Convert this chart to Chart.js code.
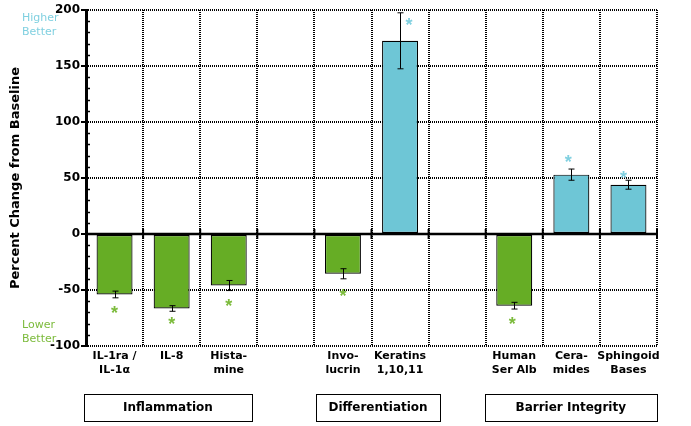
<!DOCTYPE html>
<html>
<head>
<meta charset="utf-8">
<script src="https://cdn.jsdelivr.net/npm/chart.js@4.4.0/dist/chart.umd.min.js"></script>
<style>
  html, body { margin: 0; padding: 0; background: #fff; }
  #wrap { width: 691px; height: 426px; }
</style>
</head>
<body>
<div id="wrap"><canvas id="chart"></canvas></div>
<script>
// data
const categories = [['IL-1ra /', 'IL-1α'], ['IL-8'], ['Hista-', 'mine'], '', ['Invo-', 'lucrin'],
    ['Keratins', '1,10,11'], '', ['Human', 'Ser Alb'], ['Cera-', 'mides'], ['Sphingoid', 'Bases']];
const changeValues = [-54, -66.5, -46, null, -35.5, 172.5, null, -64, 53, 44];
const errorValues = [3, 2.5, 4.5, null, 4.5, 25, null, 3, 5, 4];
const starValues = [-67, -77, -61, null, -52, 190, null, -77, 67, 53.5];
const groupNames = ['Inflammation', 'Differentiation', 'Barrier Integrity'];
const groupSpans = [[-0.54, 2.41], [3.53, 5.7], [6.48, 9.5]];

const GREEN = '#66ad25';
const BLUE = '#6ec6d6';
const STAR_GREEN = '#7cbb3c';
const STAR_BLUE = '#80d0e0';
const FONT = '"DejaVu Sans", sans-serif';
const starShift = [0, 0, 0, 0, 0, 9, 0, -2, -3, -5];

const extrasPlugin = {
    id: 'extras',
    afterDatasetsDraw(chart) {
        const { ctx, chartArea: area } = chart;
        const x = chart.scales.x, y = chart.scales.y;
        const half = area.width / categories.length / 2;
        ctx.save();

        // error bars
        ctx.strokeStyle = '#000';
        ctx.lineWidth = 1;
        changeValues.forEach((v, i) => {
            if (v === null) return;
            const px = Math.round(x.getPixelForValue(i)) + 0.5;
            const hi = y.getPixelForValue(v + errorValues[i]);
            const lo = y.getPixelForValue(v - errorValues[i]);
            ctx.beginPath();
            ctx.moveTo(px, hi); ctx.lineTo(px, lo);
            ctx.moveTo(px - 3, hi); ctx.lineTo(px + 3, hi);
            ctx.moveTo(px - 3, lo); ctx.lineTo(px + 3, lo);
            ctx.stroke();
        });

        // significance stars
        ctx.font = 'bold 18px "Liberation Sans", Arial, sans-serif';
        ctx.textAlign = 'center';
        ctx.textBaseline = 'alphabetic';
        const m = ctx.measureText('*');
        const off = (m.actualBoundingBoxAscent - m.actualBoundingBoxDescent) / 2;
        starValues.forEach((v, i) => {
            if (v === null) return;
            ctx.fillStyle = changeValues[i] < 0 ? STAR_GREEN : STAR_BLUE;
            ctx.fillText('*', x.getPixelForValue(i) + starShift[i], y.getPixelForValue(v) + off);
        });

        // zero line with ticks at category boundaries
        const zy = y.getPixelForValue(0);
        ctx.strokeStyle = '#000';
        ctx.lineWidth = 2.5;
        ctx.beginPath();
        ctx.moveTo(area.left, zy); ctx.lineTo(area.right, zy);
        ctx.stroke();
        ctx.lineWidth = 2;
        for (let i = 0; i <= categories.length; i++) {
            const bx = x.getPixelForValue(i) - half;
            ctx.beginPath();
            ctx.moveTo(bx, zy - 5); ctx.lineTo(bx, zy + 5);
            ctx.stroke();
        }

        // minor ticks on the value axis
        ctx.lineWidth = 1.5;
        for (let v = y.min; v <= y.max; v += 10) {
            if (v % 50 === 0) continue;
            const py = Math.round(y.getPixelForValue(v)) + 0.5;
            ctx.beginPath();
            ctx.moveTo(area.left, py); ctx.lineTo(area.left + 4, py);
            ctx.stroke();
        }
        ctx.restore();
    },
    afterDraw(chart) {
        const { ctx } = chart;
        const x = chart.scales.x, y = chart.scales.y;
        const slot = chart.chartArea.width / categories.length;
        ctx.save();

        // group boxes under the axis
        ctx.strokeStyle = '#000';
        ctx.lineWidth = 1;
        ctx.fillStyle = '#000';
        ctx.font = 'bold 12px ' + FONT;
        ctx.textAlign = 'center';
        ctx.textBaseline = 'middle';
        groupNames.forEach((name, g) => {
            const l = x.getPixelForValue(0) + groupSpans[g][0] * slot;
            const r = x.getPixelForValue(0) + groupSpans[g][1] * slot;
            ctx.strokeRect(Math.round(l) + 0.5, 394.5, Math.round(r - l), 27);
            ctx.fillText(name, (l + r) / 2, 408);
        });

        // direction hints
        ctx.font = '11px ' + FONT;
        ctx.textAlign = 'left';
        const top = y.getPixelForValue(y.max), bottom = y.getPixelForValue(y.min);
        ctx.fillStyle = STAR_BLUE;
        ctx.fillText('Higher', 22, top + 8);
        ctx.fillText('Better', 22, top + 22);
        ctx.fillStyle = STAR_GREEN;
        ctx.fillText('Lower', 22, bottom - 21);
        ctx.fillText('Better', 22, bottom - 7);
        ctx.restore();
    }
};

new Chart(document.getElementById('chart'), {
    type: 'bar',
    data: {
        labels: categories,
        datasets: [{
            data: changeValues,
            backgroundColor: changeValues.map(v => v < 0 ? GREEN : BLUE),
            borderColor: '#000',
            borderWidth: 1.2,
            borderSkipped: false,
            barPercentage: 0.63,
            categoryPercentage: 1
        }]
    },
    options: {
        responsive: true,
        maintainAspectRatio: false,
        animation: false,
        layout: { padding: { top: 10, right: 34, bottom: 0, left: 0 } },
        plugins: {
            legend: { display: false },
            tooltip: { enabled: false }
        },
        scales: {
            x: {
                grid: { offset: true, color: '#000', lineWidth: 2, drawTicks: false },
                border: { display: false, dash: [1, 1] },
                ticks: {
                    color: '#000',
                    font: { family: FONT, size: 11, weight: 'bold' },
                    padding: 4,
                    maxRotation: 0,
                    autoSkip: false
                },
                afterFit(scale) { scale.height = 80; }
            },
            y: {
                min: -100,
                max: 200,
                ticks: {
                    stepSize: 50,
                    color: '#000',
                    font: { family: FONT, size: 12, weight: 'bold' },
                    padding: 1
                },
                grid: {
                    color: c => c.tick && c.tick.value === 0 ? 'rgba(0,0,0,0)' : '#000',
                    lineWidth: 2,
                    tickLength: 5,
                    tickColor: '#000',
                    tickWidth: 2
                },
                border: { display: true, color: '#000', width: 3, dash: [1, 1] },
                title: {
                    display: true,
                    text: 'Percent Change from Baseline',
                    color: '#000',
                    font: { family: FONT, size: 13, weight: 'bold' },
                    padding: { top: 8, bottom: 2 }
                },
                afterFit(scale) { scale.width = 86; }
            }
        }
    },
    plugins: [extrasPlugin]
});
</script>
</body>
</html>
